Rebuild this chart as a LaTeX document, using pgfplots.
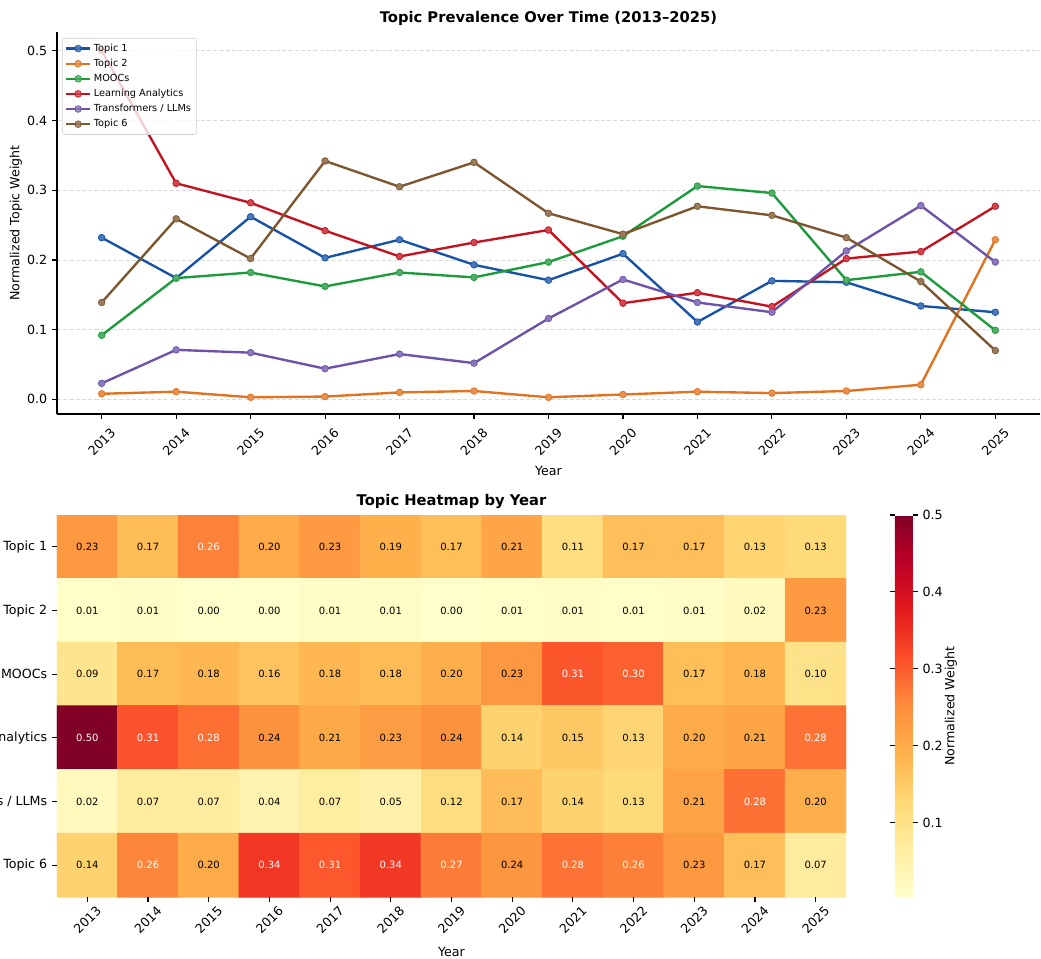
\documentclass[border=0pt]{standalone}
\usepackage{pgfplots}
\pgfplotsset{compat=1.18}
\usepackage{pgfplotstable}
\usepackage{fontspec}
\setmainfont{DejaVu Sans}
\definecolor{cA}{RGB}{22,82,166}
\definecolor{cB}{RGB}{224,114,32}
\definecolor{cC}{RGB}{28,154,60}
\definecolor{cD}{RGB}{196,18,30}
\definecolor{cE}{RGB}{108,82,170}
\definecolor{cF}{RGB}{126,86,46}
\newcommand\tickfont{\fontsize{9.1}{11}\selectfont}
\newcommand\titlefont{\fontsize{10.6}{12}\selectfont\bfseries}
\newcommand\legfont{\fontsize{7.0}{8.4}\selectfont}
\newcommand\cellfont{\fontsize{7.2}{8.5}\selectfont}

\pgfplotstableread{
year t1 t2 mo la tf t6
2013 0.232 0.008 0.092 0.500 0.023 0.139
2014 0.174 0.011 0.174 0.310 0.071 0.259
2015 0.262 0.003 0.182 0.282 0.067 0.202
2016 0.203 0.004 0.162 0.242 0.044 0.342
2017 0.229 0.010 0.182 0.205 0.065 0.305
2018 0.193 0.012 0.175 0.225 0.052 0.340
2019 0.171 0.003 0.197 0.243 0.116 0.267
2020 0.209 0.007 0.234 0.138 0.172 0.237
2021 0.111 0.011 0.306 0.153 0.139 0.277
2022 0.170 0.009 0.296 0.133 0.125 0.264
2023 0.168 0.012 0.171 0.202 0.213 0.232
2024 0.134 0.021 0.183 0.212 0.278 0.169
2025 0.125 0.229 0.099 0.277 0.197 0.070
}\lines

% rows: 0 Topic 1, 1 Topic 2, 2 MOOCs, 3 Learning Analytics, 4 Transformers / LLMs, 5 Topic 6
% w = 100 -> white label, 0 -> black label
\pgfplotstableread{
x y v lab w
0 0 0.232 0.23 0
1 0 0.174 0.17 0
2 0 0.262 0.26 100
3 0 0.203 0.20 0
4 0 0.229 0.23 0
5 0 0.193 0.19 0
6 0 0.171 0.17 0
7 0 0.209 0.21 0
8 0 0.111 0.11 0
9 0 0.170 0.17 0
10 0 0.168 0.17 0
11 0 0.134 0.13 0
12 0 0.125 0.13 0
0 1 0.008 0.01 0
1 1 0.011 0.01 0
2 1 0.003 0.00 0
3 1 0.004 0.00 0
4 1 0.010 0.01 0
5 1 0.012 0.01 0
6 1 0.003 0.00 0
7 1 0.007 0.01 0
8 1 0.011 0.01 0
9 1 0.009 0.01 0
10 1 0.012 0.01 0
11 1 0.021 0.02 0
12 1 0.229 0.23 0
0 2 0.092 0.09 0
1 2 0.174 0.17 0
2 2 0.182 0.18 0
3 2 0.162 0.16 0
4 2 0.182 0.18 0
5 2 0.175 0.18 0
6 2 0.197 0.20 0
7 2 0.234 0.23 0
8 2 0.306 0.31 100
9 2 0.296 0.30 100
10 2 0.171 0.17 0
11 2 0.183 0.18 0
12 2 0.099 0.10 0
0 3 0.500 0.50 100
1 3 0.310 0.31 100
2 3 0.282 0.28 100
3 3 0.242 0.24 0
4 3 0.205 0.21 0
5 3 0.225 0.23 0
6 3 0.243 0.24 0
7 3 0.138 0.14 0
8 3 0.153 0.15 0
9 3 0.133 0.13 0
10 3 0.202 0.20 0
11 3 0.212 0.21 0
12 3 0.277 0.28 100
0 4 0.023 0.02 0
1 4 0.071 0.07 0
2 4 0.067 0.07 0
3 4 0.044 0.04 0
4 4 0.065 0.07 0
5 4 0.052 0.05 0
6 4 0.116 0.12 0
7 4 0.172 0.17 0
8 4 0.139 0.14 0
9 4 0.125 0.13 0
10 4 0.213 0.21 0
11 4 0.278 0.28 100
12 4 0.197 0.20 0
0 5 0.139 0.14 0
1 5 0.259 0.26 100
2 5 0.202 0.20 0
3 5 0.342 0.34 100
4 5 0.305 0.31 100
5 5 0.340 0.34 100
6 5 0.267 0.27 100
7 5 0.237 0.24 0
8 5 0.277 0.28 100
9 5 0.264 0.26 100
10 5 0.232 0.23 0
11 5 0.169 0.17 0
12 5 0.070 0.07 0
}\heat

\pgfplotsset{
  ser/.style={#1, line width=1.7pt, mark=*, mark size=2.4pt,
    mark options={solid, line width=0.5pt, draw=#1, fill=#1!78!white}},
}

\begin{document}
\begin{tikzpicture}
% ---------------- line chart ----------------
\begin{axis}[
  at={(41.04pt,-298.08pt)}, anchor=south west,
  scale only axis, width=707.76pt, height=275.04pt,
  xmin=2012.4, xmax=2025.6, ymin=-0.021, ymax=0.527,
  axis x line*=bottom, axis y line*=left,
  axis line style={-, line width=0.8pt, black},
  tick align=outside, major tick length=3.5pt,
  tick style={black, line width=0.8pt},
  xtick={2013,2014,2015,2016,2017,2018,2019,2020,2021,2022,2023,2024,2025},
  ytick={0,0.1,0.2,0.3,0.4,0.5},
  /pgf/number format/assume math mode=true,
  /pgf/number format/1000 sep={},
  ticklabel style={font=\tickfont},
  yticklabel style={/pgf/number format/fixed, /pgf/number format/fixed zerofill, /pgf/number format/precision=1},
  xticklabel style={yshift=-16.5pt, rotate=45, anchor=center},
  ymajorgrids, grid style={gray!30, line width=0.6pt, dash pattern=on 3pt off 1.5pt},
  title={Topic Prevalence Over Time (2013–2025)},
  every axis title/.style={font=\titlefont, at={(axis description cs:0.5,1)}, anchor=center, yshift=10pt},
  xlabel={Year},
  every axis x label/.style={at={(axis description cs:0.5,-0.149)}, anchor=center, font=\tickfont},
  ylabel={Normalized Topic Weight},
  every axis y label/.style={at={(axis description cs:-0.0417,0.5)}, anchor=center, rotate=90, font=\tickfont},
  legend cell align=left,
  legend style={at={(axis description cs:0,1)}, anchor=north west, xshift=3.6pt, yshift=-4.3pt,
    font=\legfont, draw=gray!35, rounded corners=2pt, fill=white, fill opacity=0.8, text opacity=1,
    row sep=0.1pt, inner sep=2pt},
]
\addplot[ser=cA] table[x=year, y=t1] {\lines}; \addlegendentry{Topic 1}
\addplot[ser=cB] table[x=year, y=t2] {\lines}; \addlegendentry{Topic 2}
\addplot[ser=cC] table[x=year, y=mo] {\lines}; \addlegendentry{MOOCs}
\addplot[ser=cD] table[x=year, y=la] {\lines}; \addlegendentry{Learning Analytics}
\addplot[ser=cE] table[x=year, y=tf] {\lines}; \addlegendentry{Transformers / LLMs}
\addplot[ser=cF] table[x=year, y=t6] {\lines}; \addlegendentry{Topic 6}
\end{axis}

% ---------------- heatmap ----------------
\begin{axis}[
  at={(41.04pt,-645.84pt)}, anchor=south west,
  scale only axis, width=568.08pt, height=275.04pt,
  xmin=-0.5, xmax=12.5, ymin=-0.5, ymax=5.5, y dir=reverse,
  axis line style={draw=none},
  tick align=outside, major tick length=3.5pt,
  tick style={black, line width=0.8pt},
  xtick={0,1,2,3,4,5,6,7,8,9,10,11,12},
  xticklabels={2013,2014,2015,2016,2017,2018,2019,2020,2021,2022,2023,2024,2025},
  ytick={0,1,2,3,4,5},
  yticklabels={Topic 1,Topic 2,MOOCs,Learning Analytics,Transformers / LLMs,Topic 6},
  xtick pos=bottom, ytick pos=left,
  ticklabel style={font=\tickfont},
  xticklabel style={yshift=-13pt, rotate=45, anchor=center},
  title={Topic Heatmap by Year},
  every axis title/.style={font=\titlefont, at={(axis description cs:0.5,1)}, anchor=center, yshift=10pt},
  xlabel={Year},
  every axis x label/.style={at={(axis description cs:0.5,-0.144)}, anchor=center, font=\tickfont},
  colormap={ylorrd}{rgb255=(255,255,204) rgb255=(255,237,160) rgb255=(254,217,118) rgb255=(254,178,76) rgb255=(253,141,60) rgb255=(252,78,42) rgb255=(227,26,28) rgb255=(189,0,38) rgb255=(128,0,38)},
  point meta min=0.003, point meta max=0.5,
  colorbar,
  colorbar style={
    at={(parent axis.north east)}, anchor=north west, xshift=26.6pt,
    width=12.96pt,
    axis line style={draw=none},
    ytick={0.1,0.2,0.3,0.4,0.5},
    tick align=outside, major tick length=3.5pt,
    tick style={black, line width=0.8pt},
    /pgf/number format/assume math mode=true,
    yticklabel style={font=\tickfont, /pgf/number format/fixed, /pgf/number format/fixed zerofill, /pgf/number format/precision=1},
    ylabel={Normalized Weight},
    every axis y label/.style={at={(axis description cs:3.11,0.5)}, anchor=center, rotate=90, font=\tickfont},
  },
]
\addplot[matrix plot, mesh/cols=13, point meta=explicit, faceted color=white, line width=0.8pt]
  table[x=x, y=y, meta=v] {\heat};
\addplot[draw=none, mark=none, nodes near coords, point meta=explicit symbolic,
  nodes near coords align={center},
  visualization depends on={\thisrow{w}\as\wv},
  every node near coord/.append style={font=\cellfont, text=white!\wv!black, inner sep=0pt, anchor=center}]
  table[x=x, y=y, meta=lab] {\heat};
\end{axis}

\pgfresetboundingbox
\path[use as bounding box] (0pt,0pt) rectangle (749.52pt,-690.48pt);
\end{tikzpicture}
\end{document}
